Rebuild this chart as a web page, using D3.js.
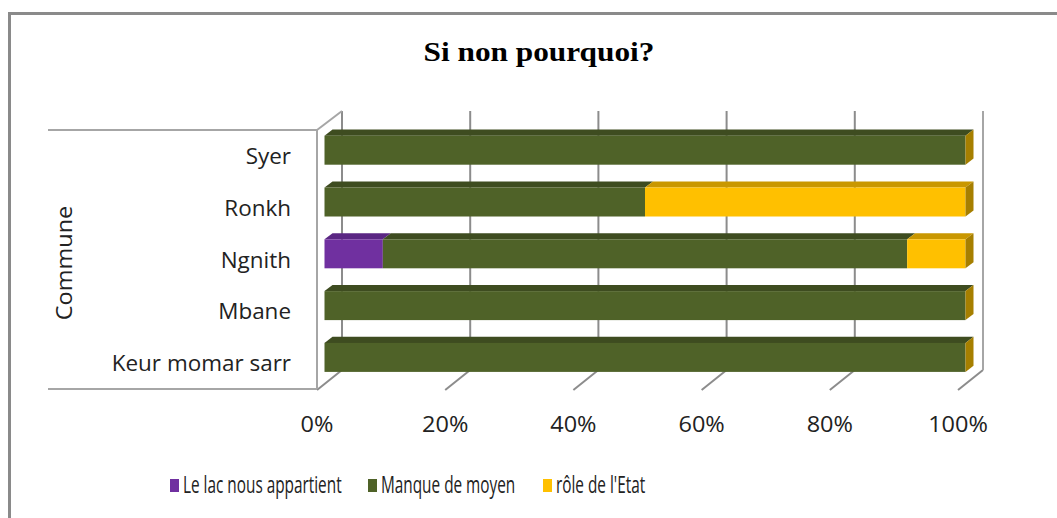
<!DOCTYPE html>
<html>
<head>
<meta charset="utf-8">
<script src="https://cdn.jsdelivr.net/npm/d3@7"></script>
<style>
  html, body { margin: 0; padding: 0; background: #fff; }
  svg { display: block; }
</style>
</head>
<body>
<svg id="chart" width="1057" height="518"></svg>
<script>
// Communes, top to bottom as listed on the category axis
const communes = ["Syer", "Ronkh", "Ngnith", "Mbane", "Keur momar sarr"];
// Share of answers per commune (percent)
const lacNousAppartient = [0, 0, 9.1, 0, 0];
const manqueDeMoyen = [100, 50, 81.8, 100, 100];
const roleDeLEtat = [0, 50, 9.1, 0, 0];
const seriesNames = ["Le lac nous appartient", "Manque de moyen", "rôle de l'Etat"];
const tickValues = [0, 20, 40, 60, 80, 100];

const colors = {
  "Le lac nous appartient": { front: "#7030A0", top: "#5A2683" },
  "Manque de moyen": { front: "#4F6228", top: "#3E4C20" },
  "rôle de l'Etat": { front: "#FFC000", top: "#C99700" }
};
const sideColor = "#A67F00";

const svg = d3.select("#chart");

// Outer chart frame
svg.append("rect")
  .attr("x", 9.5).attr("y", 13.5)
  .attr("width", 1070).attr("height", 530)
  .attr("fill", "none").attr("stroke", "#8A8A8A").attr("stroke-width", 3);

// Title
svg.append("text")
  .attr("transform", "translate(539,61) scale(1.16,1)")
  .attr("text-anchor", "middle")
  .attr("font-family", "'Liberation Serif', 'Times New Roman', serif")
  .attr("font-weight", "bold")
  .attr("font-size", 27)
  .attr("fill", "#000")
  .text("Si non pourquoi?");

// Plot geometry (front plane) and depth vector
const x0 = 317, x1 = 958, yTop = 130, yBot = 389;
const depth = { dx: 25, dy: -19 };
const barFront = 0.3, barBack = 0.62;

const x = d3.scaleLinear().domain([0, 100]).range([x0, x1]);
const y = d3.scaleBand().domain(communes).range([yTop, yBot])
  .paddingInner(0.44).paddingOuter(0.22);

const gridColor = "#8C8C8C";
const wallColor = "#A6A6A6";

// Back wall gridlines and floor lines
const grid = svg.append("g");
tickValues.forEach(v => {
  const gx = x(v);
  grid.append("line")
    .attr("x1", gx + depth.dx).attr("x2", gx + depth.dx)
    .attr("y1", yTop + depth.dy).attr("y2", yBot + depth.dy)
    .attr("stroke", gridColor).attr("stroke-width", 2);
  grid.append("line")
    .attr("x1", gx).attr("y1", yBot + 1)
    .attr("x2", gx + depth.dx).attr("y2", yBot + depth.dy)
    .attr("stroke", gridColor).attr("stroke-width", 2);
});

// Left side wall and category-axis panel
const wall = svg.append("g").attr("stroke", wallColor).attr("stroke-width", 2).attr("fill", "none");
wall.append("line").attr("x1", 48).attr("x2", x0).attr("y1", yTop).attr("y2", yTop);
wall.append("line").attr("x1", 48).attr("x2", x0).attr("y1", yBot).attr("y2", yBot);
wall.append("line").attr("x1", x0).attr("x2", x0).attr("y1", yTop).attr("y2", yBot);
wall.append("line").attr("x1", x0).attr("y1", yTop)
  .attr("x2", x0 + depth.dx).attr("y2", yTop + depth.dy);

// Stacked data
const rows = communes.map((c, i) => ({
  commune: c,
  "Le lac nous appartient": lacNousAppartient[i],
  "Manque de moyen": manqueDeMoyen[i],
  "rôle de l'Etat": roleDeLEtat[i]
}));
const stacked = d3.stack().keys(seriesNames)(rows);

const fdx = depth.dx * barFront, fdy = depth.dy * barFront;
const bdx = depth.dx * barBack, bdy = depth.dy * barBack;
const tdx = bdx - fdx, tdy = bdy - fdy;

const bars = svg.append("g");
stacked.forEach(layer => {
  const key = layer.key;
  layer.forEach(seg => {
    const c = seg.data.commune;
    if (seg[1] - seg[0] <= 0) return;
    const xa = x(seg[0]) + fdx, xb = x(seg[1]) + fdx;
    const ya = y(c) + fdy, h = y.bandwidth();
    // top face
    bars.append("path")
      .attr("d", `M${xa},${ya} L${xa + tdx},${ya + tdy} L${xb + tdx},${ya + tdy} L${xb},${ya} Z`)
      .attr("fill", colors[key].top);
    // front face
    bars.append("rect")
      .attr("x", xa).attr("y", ya)
      .attr("width", xb - xa).attr("height", h)
      .attr("fill", colors[key].front);
  });
});
// End caps of each bar
communes.forEach(c => {
  const xe = x(100) + fdx, ya = y(c) + fdy, h = y.bandwidth();
  bars.append("path")
    .attr("d", `M${xe},${ya} L${xe + tdx},${ya + tdy} L${xe + tdx},${ya + tdy + h} L${xe},${ya + h} Z`)
    .attr("fill", sideColor);
});

// Right side wall
svg.append("line")
  .attr("x1", x1 + depth.dx).attr("x2", x1 + depth.dx)
  .attr("y1", yTop + depth.dy).attr("y2", yBot + depth.dy)
  .attr("stroke", wallColor).attr("stroke-width", 2);

const labelFont = "'Open Sans', 'Noto Sans', sans-serif";

// Value axis labels
svg.append("g").selectAll("text")
  .data(tickValues).join("text")
  .attr("transform", d => `translate(${x(d)},432) scale(1.12,1)`)
  .attr("text-anchor", "middle")
  .attr("font-family", labelFont).attr("font-size", 21)
  .attr("fill", "#222")
  .text(d => d + "%");

// Category labels
svg.append("g").selectAll("text")
  .data(communes).join("text")
  .attr("transform", d => `translate(291,${y(d) + y.bandwidth() / 2 + 8}) scale(1.07,1)`)
  .attr("text-anchor", "end")
  .attr("font-family", labelFont).attr("font-size", 21)
  .attr("fill", "#222")
  .text(d => d);

// Axis title
svg.append("text")
  .attr("transform", "translate(72,263) rotate(-90) scale(1.12,1)")
  .attr("text-anchor", "middle")
  .attr("font-family", labelFont).attr("font-size", 21)
  .attr("fill", "#222")
  .text("Commune");

// Legend
const legendX = [170, 368, 543];
const legend = svg.append("g");
seriesNames.forEach((name, i) => {
  legend.append("rect")
    .attr("x", legendX[i]).attr("y", 479)
    .attr("width", 9).attr("height", 13)
    .attr("fill", colors[name].front);
  legend.append("text")
    .attr("transform", `translate(${legendX[i] + 13},492.5) scale(0.64,1)`)
    .attr("font-family", labelFont).attr("font-size", 24)
    .attr("fill", "#222")
    .text(name);
});
</script>
</body>
</html>
